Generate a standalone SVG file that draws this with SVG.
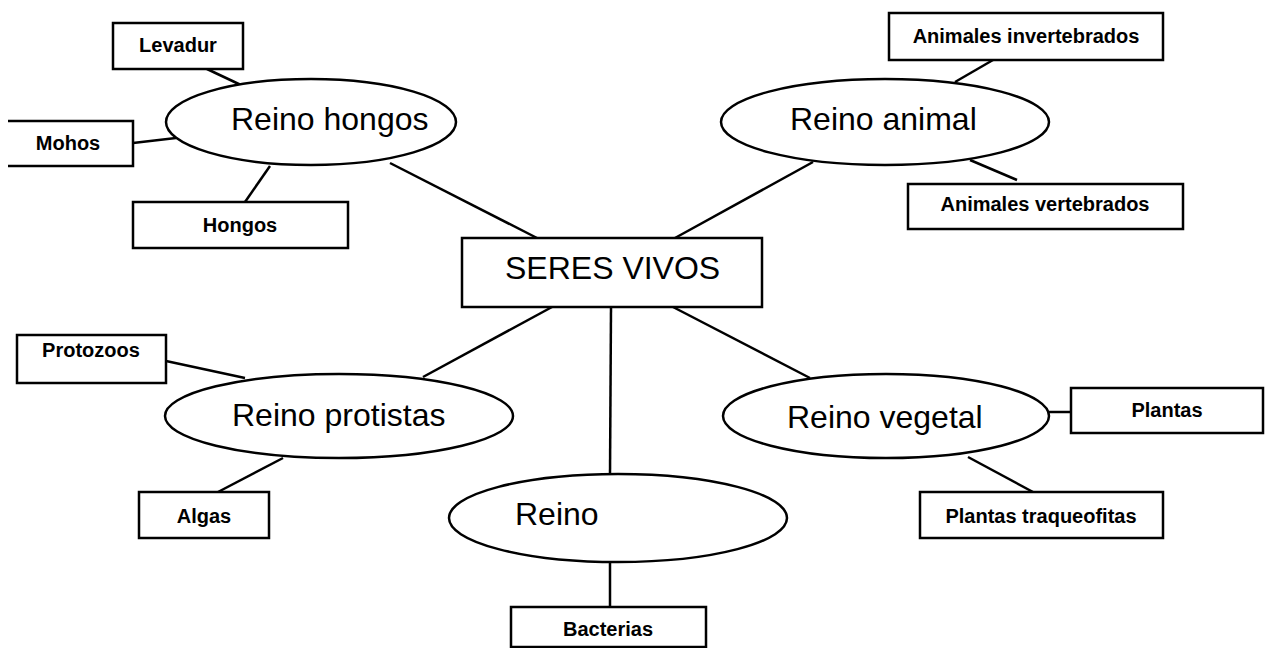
<svg xmlns="http://www.w3.org/2000/svg" width="1271" height="648" viewBox="0 0 1271 648">
<style>
.box{fill:#fff;stroke:#000;stroke-width:2.5}
.ell{fill:#fff;stroke:#000;stroke-width:2.5}
.ln{stroke:#000;stroke-width:2.5;fill:none}
.big{font-family:"Liberation Sans",Arial,sans-serif;font-size:32px;fill:#000}
.sm{font-family:"Liberation Sans",Arial,sans-serif;font-size:20px;font-weight:bold;fill:#000;text-anchor:middle}
</style>
<rect width="1271" height="648" fill="#fff"/>
<g id="connectors" class="ln">
<line x1="207" y1="69" x2="243" y2="86"/>
<line x1="133" y1="143" x2="176" y2="138"/>
<line x1="245" y1="202" x2="270" y2="166"/>
<line x1="390" y1="163" x2="537" y2="238"/>
<line x1="813" y1="162" x2="675" y2="238"/>
<line x1="993" y1="60" x2="955" y2="82"/>
<line x1="970" y1="160" x2="1017" y2="180"/>
<line x1="166" y1="361" x2="245" y2="378"/>
<line x1="552" y1="307" x2="423" y2="377"/>
<line x1="283" y1="458" x2="218" y2="492"/>
<line x1="611" y1="307" x2="610" y2="475"/>
<line x1="610" y1="562" x2="610" y2="607"/>
<line x1="673" y1="307" x2="810" y2="378"/>
<line x1="1049" y1="412" x2="1071" y2="412"/>
<line x1="968" y1="457" x2="1033" y2="492"/>
</g>
<g id="seres-vivos">
<rect class="box" x="462" y="238" width="300" height="69"/>
<text class="big" x="505" y="279">SERES VIVOS</text>
</g>
<g id="reino-hongos">
<ellipse class="ell" cx="311" cy="122" rx="145" ry="43"/>
<text class="big" x="231" y="130">Reino hongos</text>
</g>
<g id="reino-animal">
<ellipse class="ell" cx="885" cy="122" rx="164" ry="43"/>
<text class="big" x="790" y="130">Reino animal</text>
</g>
<g id="reino-protistas">
<ellipse class="ell" cx="339" cy="416" rx="174" ry="42"/>
<text class="big" x="232" y="426">Reino protistas</text>
</g>
<g id="reino-vegetal">
<ellipse class="ell" cx="886" cy="416" rx="163" ry="42"/>
<text class="big" x="787" y="428">Reino vegetal</text>
</g>
<g id="reino">
<ellipse class="ell" cx="618" cy="518" rx="169" ry="44"/>
<text class="big" x="515" y="525">Reino</text>
</g>
<g id="levadur">
<rect class="box" x="113" y="23" width="130" height="46"/>
<text class="sm" x="178" y="52">Levadur</text>
</g>
<g id="mohos">
<path class="ln" d="M8,121 H133 V166 H8"/>
<text class="sm" x="68" y="150">Mohos</text>
</g>
<g id="hongos">
<rect class="box" x="133" y="202" width="215" height="46"/>
<text class="sm" x="240" y="232">Hongos</text>
</g>
<g id="animales-invertebrados">
<rect class="box" x="889" y="13" width="274" height="47"/>
<text class="sm" x="1026" y="43">Animales invertebrados</text>
</g>
<g id="animales-vertebrados">
<rect class="box" x="908" y="184" width="275" height="45"/>
<text class="sm" x="1045" y="211">Animales vertebrados</text>
</g>
<g id="protozoos">
<rect class="box" x="17" y="335" width="149" height="48"/>
<text class="sm" x="91" y="357">Protozoos</text>
</g>
<g id="algas">
<rect class="box" x="139" y="492" width="130" height="46"/>
<text class="sm" x="204" y="523">Algas</text>
</g>
<g id="bacterias">
<rect class="box" x="511" y="607" width="195" height="40"/>
<text class="sm" x="608" y="636">Bacterias</text>
</g>
<g id="plantas">
<rect class="box" x="1071" y="388" width="192" height="45"/>
<text class="sm" x="1167" y="417">Plantas</text>
</g>
<g id="plantas-traqueofitas">
<rect class="box" x="920" y="492" width="243" height="46"/>
<text class="sm" x="1041" y="523">Plantas traqueofitas</text>
</g>
</svg>
